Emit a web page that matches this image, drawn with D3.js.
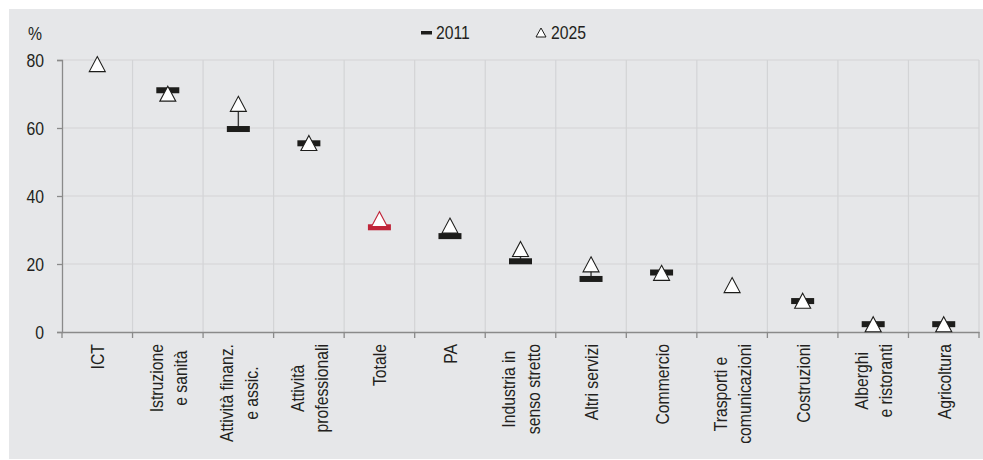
<!DOCTYPE html>
<html><head><meta charset="utf-8">
<script src="https://cdn.jsdelivr.net/npm/d3@7"></script>
<style>
body{margin:0;background:#fff;}
svg text{font-family:"Liberation Sans",Arial,sans-serif;fill:#231f20;}
</style></head>
<body><svg id="c" width="983" height="460"></svg>
<script>
const categories = [["ICT"],["Istruzione","e sanità"],["Attività finanz.","e assic."],["Attività","professionali"],["Totale"],["PA"],["Industria in","senso stretto"],["Altri servizi"],["Commercio"],["Trasporti e","comunicazioni"],["Costruzioni"],["Alberghi","e ristoranti"],["Agricoltura"]];
const values2011 = [null,71.1,59.7,55.5,30.8,28.2,20.8,15.6,17.5,null,9.1,2.3,2.3];
const values2025 = [78.8,70.1,67.1,55.6,33.2,31.3,24.4,19.9,17.4,13.8,9.2,2.3,2.3];
const yTicks = [0,20,40,60,80];
const seriesNames = ["2011","2025"];
const highlight = "Totale";

const SX = 0.83; // condensed look
const FS = 19;
const svg = d3.select("#c");
const W=983;
svg.append("rect").attr("x",9).attr("y",9).attr("width",W-9).attr("height",450).attr("fill","#e6e7e9");

const keys = categories.map(c=>c.join(" "));
const x = d3.scaleBand().domain(keys).range([62,979]).padding(0);
const y = d3.scaleLinear().domain([0,80]).range([332,60]);

const dark="#1d1d1b", red="#c0263a", grid="#d3d4d6", axisC="#8a8a8a";

// gridlines
svg.append("g").selectAll("line").data(yTicks.filter(d=>d>0)).join("line")
 .attr("x1",62).attr("x2",979).attr("y1",d=>y(d)).attr("y2",d=>y(d))
 .attr("stroke",grid).attr("stroke-width",1.2);
const bounds = keys.map(k=>x(k)).concat([x.range()[1]]);
svg.append("g").selectAll("line").data(bounds.slice(1)).join("line")
 .attr("x1",d=>d).attr("x2",d=>d).attr("y1",y(80)).attr("y2",y(0))
 .attr("stroke",grid).attr("stroke-width",1.2);

// y axis
const ya = svg.append("g").attr("transform","translate(62,0)")
 .call(d3.axisLeft(y).tickValues(yTicks).tickSize(5).tickPadding(0).tickFormat(d3.format("d")));
ya.select(".domain").attr("stroke",axisC).attr("stroke-width",1.3);
ya.selectAll(".tick line").attr("stroke",axisC).attr("stroke-width",1.3);
ya.selectAll(".tick text").attr("font-size",FS).attr("dy","0.35em").style("font-family",null)
  .attr("x",-18/SX).attr("transform",`scale(${SX},1)`);

// x axis
const xa = svg.append("g").attr("transform",`translate(0,${y(0)})`)
 .call(d3.axisBottom(x).tickSize(0).tickFormat(""));
xa.select(".domain").attr("stroke",axisC).attr("stroke-width",1.3);
xa.selectAll(".bt").data(bounds).join("line").attr("class","bt")
 .attr("x1",d=>d).attr("x2",d=>d).attr("y1",0).attr("y2",6)
 .attr("stroke",axisC).attr("stroke-width",1.3);

// category labels
const labG = svg.append("g");
categories.forEach((lines,i)=>{
  const cx = x(keys[i]) + x.bandwidth()/2;
  const lh = 24.5;
  const n = lines.length;
  const g = labG.append("g");
  const ts = lines.map(t=>g.append("text").attr("font-size",FS).text(t));
  const maxL = d3.max(ts.map(t=>t.node().getComputedTextLength()))*SX;
  ts.forEach((t,j)=>{
    const off = (j-(n-1)/2)*lh;
    const px = cx + off + 7;
    const py = 344 + maxL/2;
    t.attr("text-anchor","middle").attr("transform",`translate(${px},${py}) rotate(-90) scale(${SX},1)`);
  });
});

// marks
const data = keys.map((k,i)=>({k,a:values2011[i],b:values2025[i]}));
const mg = svg.append("g");
data.forEach(d=>{
  const cx = x(d.k)+x.bandwidth()/2;
  const col = d.k===highlight?red:dark;
  if(d.a!=null && d.b!=null){
    mg.append("line").attr("x1",cx).attr("x2",cx).attr("y1",y(d.a)).attr("y2",y(d.b))
      .attr("stroke",d.k===highlight?red:"#3a3a3a").attr("stroke-width",1.4);
  }
  if(d.a!=null){
    mg.append("rect").attr("x",cx-11.5).attr("y",y(d.a)-3).attr("width",23).attr("height",6).attr("fill",col);
  }
  if(d.b!=null){
    const cy=y(d.b);
    mg.append("path").attr("d",`M${cx},${cy-7.5}L${cx+8},${cy+7.5}L${cx-8},${cy+7.5}Z`)
      .attr("fill","#fff").attr("stroke",col).attr("stroke-width",1.1);
  }
});

// legend
const lg = svg.append("g");
lg.append("rect").attr("x",421).attr("y",31).attr("width",11).attr("height",3.5).attr("fill",dark);
lg.append("text").attr("transform",`translate(436,39) scale(${SX},1)`).attr("font-size",FS).text(seriesNames[0]);
lg.append("path").attr("d","M541,28L546,37L536,37Z").attr("fill","#fff").attr("stroke",dark).attr("stroke-width",1);
lg.append("text").attr("transform",`translate(551,39) scale(${SX},1)`).attr("font-size",FS).text(seriesNames[1]);

// unit
svg.append("text").attr("transform",`translate(28,40) scale(${SX},1)`).attr("font-size",FS).text("%");
</script></body></html>
